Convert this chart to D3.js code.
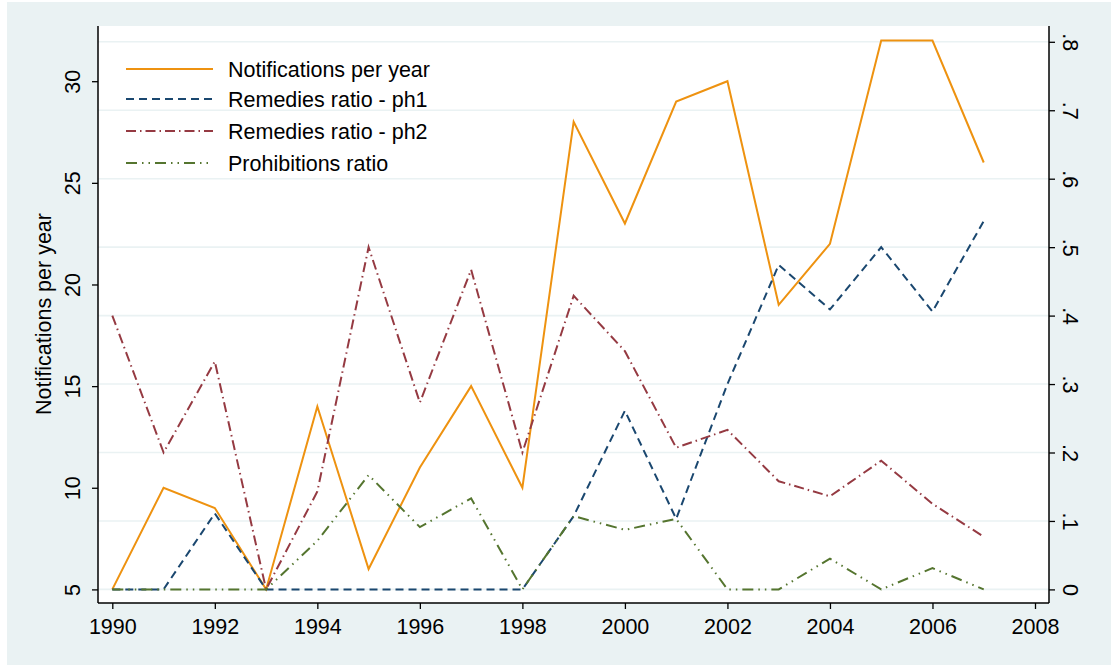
<!DOCTYPE html>
<html><head><meta charset="utf-8">
<script src="https://cdn.jsdelivr.net/npm/d3@7"></script>
<style>body{margin:0;background:#fff}svg{display:block;font-family:"Liberation Sans",Arial,Helvetica,sans-serif}</style>
</head><body>
<svg id="c" width="1111" height="665"></svg>
<script>
const years = [1990,1991,1992,1993,1994,1995,1996,1997,1998,1999,2000,2001,2002,2003,2004,2005,2006,2007];
const notifications = [5,10,9,5,14,6,11,15,10,28,23,29,30,19,22,32,32,26];
const remediesPh1 = [0,0,0.111,0,0,0,0,0,0,0.107,0.261,0.103,0.300,0.474,0.409,0.500,0.406,0.538];
const remediesPh2 = [0.400,0.200,0.333,0,0.143,0.500,0.273,0.467,0.200,0.429,0.348,0.207,0.233,0.158,0.136,0.188,0.125,0.077];
const prohibitions = [0,0,0,0,0.071,0.167,0.091,0.133,0,0.107,0.087,0.103,0,0,0.045,0,0.031,0];
const xTicks = [1990,1992,1994,1996,1998,2000,2002,2004,2006,2008];
const yLeftTicks = [5,10,15,20,25,30];
const yRightTicks = [0,0.1,0.2,0.3,0.4,0.5,0.6,0.7,0.8];
const yRightLabels = ["0",".1",".2",".3",".4",".5",".6",".7",".8"];
const seriesNames = ["Notifications per year","Remedies ratio - ph1","Remedies ratio - ph2","Prohibitions ratio"];

const FS = 21.5;
const svg = d3.select("#c");
const P = {l:98, r:1049, t:26, b:603};
const x = d3.scaleLinear().domain([1990,2008]).range([112.3,1035]);
const yL = d3.scaleLinear().domain([5,30]).range([589.4,81.2]);
const yR = d3.scaleLinear().domain([0,0.8]).range([589.4,41.8]);

svg.append("rect").attr("x",7).attr("y",2).attr("width",1104).attr("height",663).attr("fill","#EAF2F3");
svg.append("rect").attr("x",P.l).attr("y",P.t).attr("width",P.r-P.l).attr("height",P.b-P.t).attr("fill","#fff");

// gridlines
svg.append("g").selectAll("line").data(yRightTicks).join("line")
  .attr("x1",P.l).attr("x2",P.r).attr("y1",d=>yR(d)).attr("y2",d=>yR(d))
  .attr("stroke","#EAF2F3").attr("stroke-width",1.6);

const styles = [
  {data:notifications, y:yL, color:"#EE9210", dash:null},
  {data:remediesPh1, y:yR, color:"#1A476F", dash:"8,5"},
  {data:remediesPh2, y:yR, color:"#953A42", dash:"10,4,1.5,4"},
  {data:prohibitions, y:yR, color:"#55752F", dash:"11,5,1.5,5,1.5,5"}
];
styles.forEach(s=>{
  const line = d3.line().x((d,i)=>x(years[i])).y(d=>s.y(d));
  svg.append("path").datum(s.data).attr("d",line).attr("fill","none")
    .attr("stroke",s.color).attr("stroke-width",2).attr("stroke-linejoin","miter")
    .attr("stroke-dasharray",s.dash);
});

// axes
const axL = d3.axisLeft(yL).tickValues(yLeftTicks).tickSize(6).tickPadding(4);
const gL = svg.append("g").attr("transform",`translate(${P.l},0)`).call(axL);
const axR = d3.axisRight(yR).tickValues(yRightTicks).tickSize(6).tickFormat((d,i)=>yRightLabels[i]);
const gR = svg.append("g").attr("transform",`translate(${P.r},0)`).call(axR);
const axB = d3.axisBottom(x).tickValues(xTicks).tickSize(6).tickFormat(d3.format("d"));
const gB = svg.append("g").attr("transform",`translate(0,${P.b})`).call(axB);
[gL,gR,gB].forEach(g=>{
  g.select(".domain").remove();
  g.selectAll(".tick line").attr("stroke","#000").attr("stroke-width",1.3);
  g.selectAll("text").attr("font-size",FS).attr("fill","#000").attr("font-family","Liberation Sans, Arial, sans-serif");
});
gL.selectAll(".tick text").attr("x",0).attr("dy",null).attr("text-anchor","middle")
  .attr("transform","translate(-18,0) rotate(-90)");
gR.selectAll(".tick text").attr("x",0).attr("dy",null).attr("text-anchor","middle")
  .attr("transform","translate(14,0) rotate(90)");
gB.selectAll(".tick text").attr("y",0).attr("dy",null).attr("transform","translate(0,31)");

svg.append("line").attr("x1",P.l).attr("x2",P.l).attr("y1",P.t).attr("y2",P.b).attr("stroke","#000").attr("stroke-width",1.5);
svg.append("line").attr("x1",P.r).attr("x2",P.r).attr("y1",P.t).attr("y2",P.b).attr("stroke","#000").attr("stroke-width",1.5);
svg.append("line").attr("x1",P.l).attr("x2",P.r).attr("y1",P.b).attr("y2",P.b).attr("stroke","#000").attr("stroke-width",1.5);

svg.append("text").attr("transform","translate(51,314) rotate(-90)").attr("text-anchor","middle")
  .attr("font-size",FS).attr("fill","#000").text("Notifications per year");

// legend
const legY = [69,99,131,163];
const leg = svg.append("g");
styles.forEach((s,i)=>{
  leg.append("line").attr("x1",126).attr("x2",213).attr("y1",legY[i]).attr("y2",legY[i])
    .attr("stroke",s.color).attr("stroke-width",2).attr("stroke-dasharray",s.dash);
  leg.append("text").attr("x",228).attr("y",legY[i]+7.5).attr("font-size",FS).attr("fill","#000").text(seriesNames[i]);
});
</script>
</body></html>
